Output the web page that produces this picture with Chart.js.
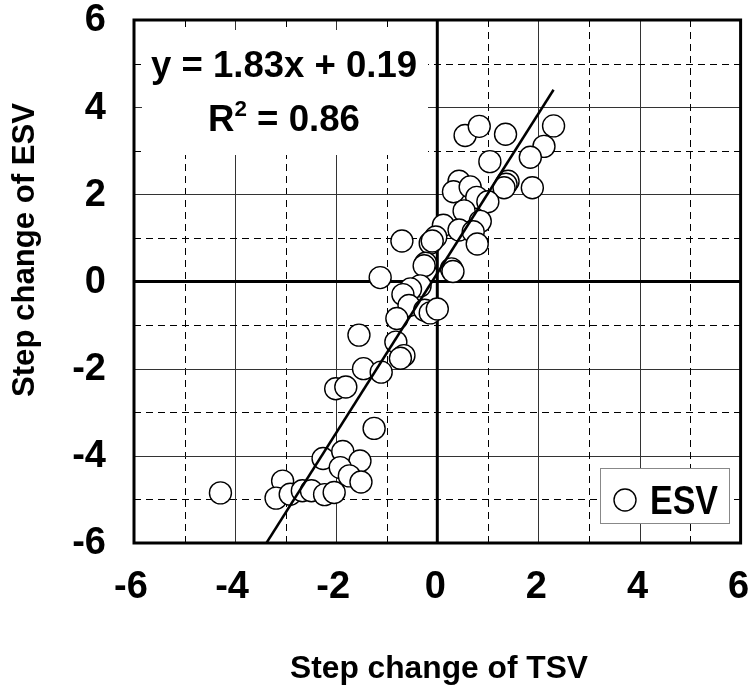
<!DOCTYPE html>
<html>
<head>
<meta charset="utf-8">
<script src="https://cdn.jsdelivr.net/npm/chart.js@4.4.0/dist/chart.umd.min.js"></script>
<style>
html, body { margin: 0; padding: 0; background: #fff; }
</style>
</head>
<body>
<canvas id="chart" width="753" height="691"></canvas>
<script>
// step change of TSV (x) and ESV (y), one entry per circle
const tsv = [0.55, 0.83, 1.35, 2.30, 2.11, 1.84, 1.04, 1.40, 1.36, 1.32, 1.88, 0.43, 0.32, 0.65, 0.78, 1.00,
    0.53, 0.85, 0.12, 0.43, 0.71, 0.79, -0.03, -0.14, -0.10, -0.70, -0.23, -0.26, 0.28, 0.31, -1.13,
    -0.34, -0.53, -0.68, -0.56, -0.25, -0.14, 0.00, -0.80, -1.55, -0.82, -0.66, -0.73, -1.46, -1.11,
    -2.01, -1.81, -1.25, -2.26, -1.87, -1.53, -1.92, -1.74, -1.51, -4.29, -3.06, -3.19, -2.91, -2.67,
    -2.49, -2.23, -2.04];
const esv = [3.35, 3.56, 3.38, 3.57, 3.10, 2.85, 2.75, 2.30, 2.23, 2.15, 2.15, 2.30, 2.06, 2.17, 1.93, 1.83,
    1.62, 1.38, 1.29, 1.18, 1.14, 0.86, 1.02, 0.88, 0.93, 0.93, 0.42, 0.36, 0.29, 0.23, 0.09,
    -0.10, -0.17, -0.30, -0.55, -0.66, -0.72, -0.63, -0.85, -1.23, -1.39, -1.70, -1.76, -2.00, -2.08,
    -2.46, -2.42, -3.37, -4.06, -3.90, -4.12, -4.27, -4.46, -4.60, -4.85, -4.58, -4.97, -4.88, -4.80,
    -4.80, -4.89, -4.84];

// fitted line end points
const fitX = [-3.38, 2.30];
const fitY = [-6.00, 4.40];

const xTicks = [-6, -4, -2, 0, 2, 4, 6];
const yTicks = [-6, -4, -2, 0, 2, 4, 6];
const xTitle = "Step change of TSV";
const yTitle = "Step change of ESV";
const seriesName = "ESV";
const eqText = "y = 1.83x + 0.19";
const r2Text = " = 0.86";

const points = tsv.map((x, i) => ({ x: x, y: esv[i] }));
const fitLine = fitX.map((x, i) => ({ x: x, y: fitY[i] }));

const FAM = "'Liberation Sans', Arial, sans-serif";
const font = px => "bold " + px + "px " + FAM;

// draws text centred on cx, squeezed or widened to w pixels
function stretchText(ctx, txt, cx, y, w) {
    const m = ctx.measureText(txt).width;
    ctx.save();
    ctx.translate(cx, y);
    ctx.scale(w / m, 1);
    ctx.textAlign = "center";
    ctx.fillText(txt, 0, 0);
    ctx.restore();
}

function seg(ctx, x1, y1, x2, y2) {
    ctx.beginPath();
    ctx.moveTo(x1, y1);
    ctx.lineTo(x2, y2);
    ctx.stroke();
}

const decor = {
    id: "decor",
    beforeDatasetsDraw(chart) {
        const ctx = chart.ctx, a = chart.chartArea;
        const xs = chart.scales.x, ys = chart.scales.y;
        ctx.save();
        ctx.lineWidth = 1;
        for (let v = -5; v <= 5; v++) {
            if (v === 0) continue;
            const odd = Math.abs(v) % 2 === 1;
            ctx.setLineDash(odd ? [7, 5] : []);
            ctx.strokeStyle = odd ? "#000" : "#333";
            const px = Math.round(xs.getPixelForValue(v)) + 0.5;
            seg(ctx, px, a.top, px, a.bottom);
            const py = Math.round(ys.getPixelForValue(v)) + 0.5;
            seg(ctx, a.left, py, a.right, py);
        }
        ctx.setLineDash([]);
        ctx.strokeStyle = "#000";
        ctx.lineWidth = 3;
        const x0 = xs.getPixelForValue(0), y0 = ys.getPixelForValue(0);
        seg(ctx, x0, a.top, x0, a.bottom);
        seg(ctx, a.left, y0, a.right, y0);

        // white areas behind the equation and the legend
        ctx.fillStyle = "#fff";
        ctx.fillRect(142, 30, 286, 125);
        ctx.fillRect(600, 468, 130, 56);
        ctx.restore();
    },
    afterDatasetsDraw(chart) {
        const ctx = chart.ctx, a = chart.chartArea;
        const xs = chart.scales.x, ys = chart.scales.y;
        ctx.save();

        // legend
        ctx.strokeStyle = "#888";
        ctx.lineWidth = 1;
        ctx.strokeRect(600.5, 468.5, 129, 55);
        ctx.beginPath();
        ctx.arc(625, 500, 11, 0, Math.PI * 2);
        ctx.fillStyle = "#fff";
        ctx.fill();
        ctx.strokeStyle = "#000";
        ctx.lineWidth = 1.4;
        ctx.stroke();
        ctx.fillStyle = "#000";
        ctx.font = font(40);
        ctx.textBaseline = "alphabetic";
        stretchText(ctx, seriesName, 684, 514, 68);

        // plot frame
        ctx.lineWidth = 3;
        ctx.strokeStyle = "#000";
        ctx.strokeRect(a.left, a.top, a.right - a.left, a.bottom - a.top);

        // equation
        ctx.font = font(36);
        stretchText(ctx, eqText, 284, 77, 266);
        const wR = ctx.measureText("R").width;
        const wRest = ctx.measureText(r2Text).width;
        ctx.font = font(22);
        const w2 = ctx.measureText("2").width;
        const total = wR + w2 + wRest;
        const target = 152;
        ctx.save();
        ctx.translate(284 - target / 2, 131);
        ctx.scale(target / total, 1);
        ctx.textAlign = "left";
        ctx.font = font(36);
        ctx.fillText("R", 0, 0);
        ctx.font = font(22);
        ctx.fillText("2", wR, -15);
        ctx.font = font(36);
        ctx.fillText(r2Text, wR + w2, 0);
        ctx.restore();

        // tick labels
        ctx.font = font(38);
        ctx.textBaseline = "middle";
        ctx.textAlign = "right";
        yTicks.forEach(v => {
            ctx.fillText(String(v), 106, ys.getPixelForValue(v) + 1);
        });
        ctx.textAlign = "center";
        xTicks.forEach(v => {
            ctx.fillText(String(v), xs.getPixelForValue(v) + (v < 0 ? -3 : -2), 588);
        });

        // axis titles
        ctx.textBaseline = "alphabetic";
        ctx.font = font(31);
        stretchText(ctx, xTitle, 439, 678, 298);
        ctx.save();
        ctx.translate(34, 250);
        ctx.rotate(-Math.PI / 2);
        stretchText(ctx, yTitle, 0, 0, 294);
        ctx.restore();

        ctx.restore();
    }
};

new Chart(document.getElementById("chart").getContext("2d"), {
    type: "scatter",
    data: {
        datasets: [
            {
                label: "fit",
                data: fitLine,
                showLine: true,
                borderColor: "#000",
                borderWidth: 2.5,
                pointRadius: 0,
                order: 0
            },
            {
                label: seriesName,
                data: points,
                pointRadius: 11,
                pointBackgroundColor: "#fff",
                pointBorderColor: "#000",
                pointBorderWidth: 1.4,
                order: 1
            }
        ]
    },
    options: {
        responsive: false,
        animation: false,
        devicePixelRatio: 1,
        layout: { padding: { left: 134, right: 12, top: 20, bottom: 148 } },
        plugins: { legend: { display: false }, tooltip: { enabled: false } },
        scales: {
            x: { type: "linear", min: -6, max: 6, display: false },
            y: { type: "linear", min: -6, max: 6, display: false }
        }
    },
    plugins: [decor]
});
</script>
</body>
</html>
